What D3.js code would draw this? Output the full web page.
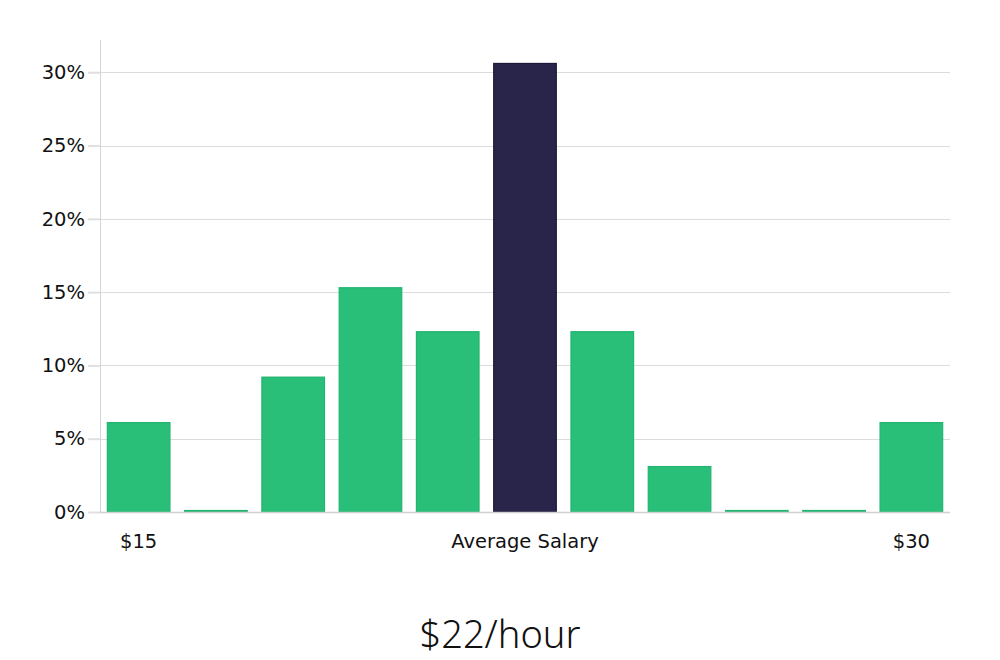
<!DOCTYPE html>
<html><head><meta charset="utf-8">
<script src="https://cdn.jsdelivr.net/npm/d3@7"></script>
<style>body{margin:0;background:#fff}svg{display:block}</style>
</head><body>
<svg id="c" width="1000" height="660"></svg>
<script>
const categories = ["b1","b2","b3","b4","b5","b6","b7","b8","b9","b10","b11"];
const values = [6.1, 0, 9.2, 15.3, 12.3, 30.6, 12.3, 3.1, 0, 0, 6.1];
const highlightIndex = 5;
const yTicks = [0, 5, 10, 15, 20, 25, 30];
const xLabels = [{i:0, t:"$15"}, {i:5, t:"Average Salary"}, {i:10, t:"$30"}];
const title = "$22/hour";

(function(){
const svg = d3.select("#c");
const mLeft = 100, mRight = 950, mBottom = 512, mTop = 40;
const x = d3.scaleBand().domain(categories).range([mLeft, mRight]).paddingInner(0.19).paddingOuter(0.095);
const y = d3.scaleLinear().domain([0, 32.2]).range([mBottom, mTop]);

// grid
svg.append("g").selectAll("line").data(yTicks.filter(d=>d>0)).join("line")
  .attr("x1", mLeft).attr("x2", mRight)
  .attr("y1", d=>Math.round(y(d))+0.5).attr("y2", d=>Math.round(y(d))+0.5)
  .attr("stroke", "#dcdcdc").attr("stroke-width", 1);

// y axis
const yAxis = d3.axisLeft(y).tickValues(yTicks).tickFormat(d=>d+"%").tickSize(12).tickPadding(3);
const ga = svg.append("g").attr("transform", `translate(${mLeft},0)`).call(yAxis);
ga.select(".domain").remove();
ga.selectAll(".tick line").attr("stroke", "#e0e0e0").attr("stroke-width", 2);
ga.selectAll(".tick text").attr("font-family","DejaVu Sans").attr("font-size", 19.5).attr("fill","#111");
svg.append("line").attr("x1", mLeft+0.5).attr("x2", mLeft+0.5).attr("y1", mTop).attr("y2", mBottom)
  .attr("stroke","#d5d5d5").attr("stroke-width",1);

// bars
svg.append("g").selectAll("rect").data(values).join("rect")
  .attr("x", (d,i)=>x(categories[i]))
  .attr("width", x.bandwidth())
  .attr("y", d=> d>0 ? y(d) : mBottom-1.5)
  .attr("height", d=> d>0 ? mBottom - y(d) : 1.5)
  .attr("fill", (d,i)=> i===highlightIndex ? "#29254a" : "#29bf78")
  .attr("stroke", (d,i)=> i===highlightIndex ? "#1c1838" : "#22b470")
  .attr("stroke-width", 1.2);

// x axis line
svg.append("line").attr("x1", mLeft).attr("x2", mRight).attr("y1", mBottom+0.5).attr("y2", mBottom+0.5)
  .attr("stroke","#d0d0d0").attr("stroke-width",1.5);

// x labels
svg.append("g").selectAll("text").data(xLabels).join("text")
  .attr("x", d=>x(categories[d.i]) + x.bandwidth()/2)
  .attr("y", 548)
  .attr("text-anchor","middle")
  .attr("font-family","DejaVu Sans").attr("font-size",19.5).attr("fill","#111")
  .text(d=>d.t);

// title
svg.append("text").attr("x", 500).attr("y", 648).attr("text-anchor","middle")
  .attr("font-family","Noto Sans").attr("font-weight",300).attr("font-size",38).attr("fill","#111")
  .text(title);
})();
</script>
</body></html>
